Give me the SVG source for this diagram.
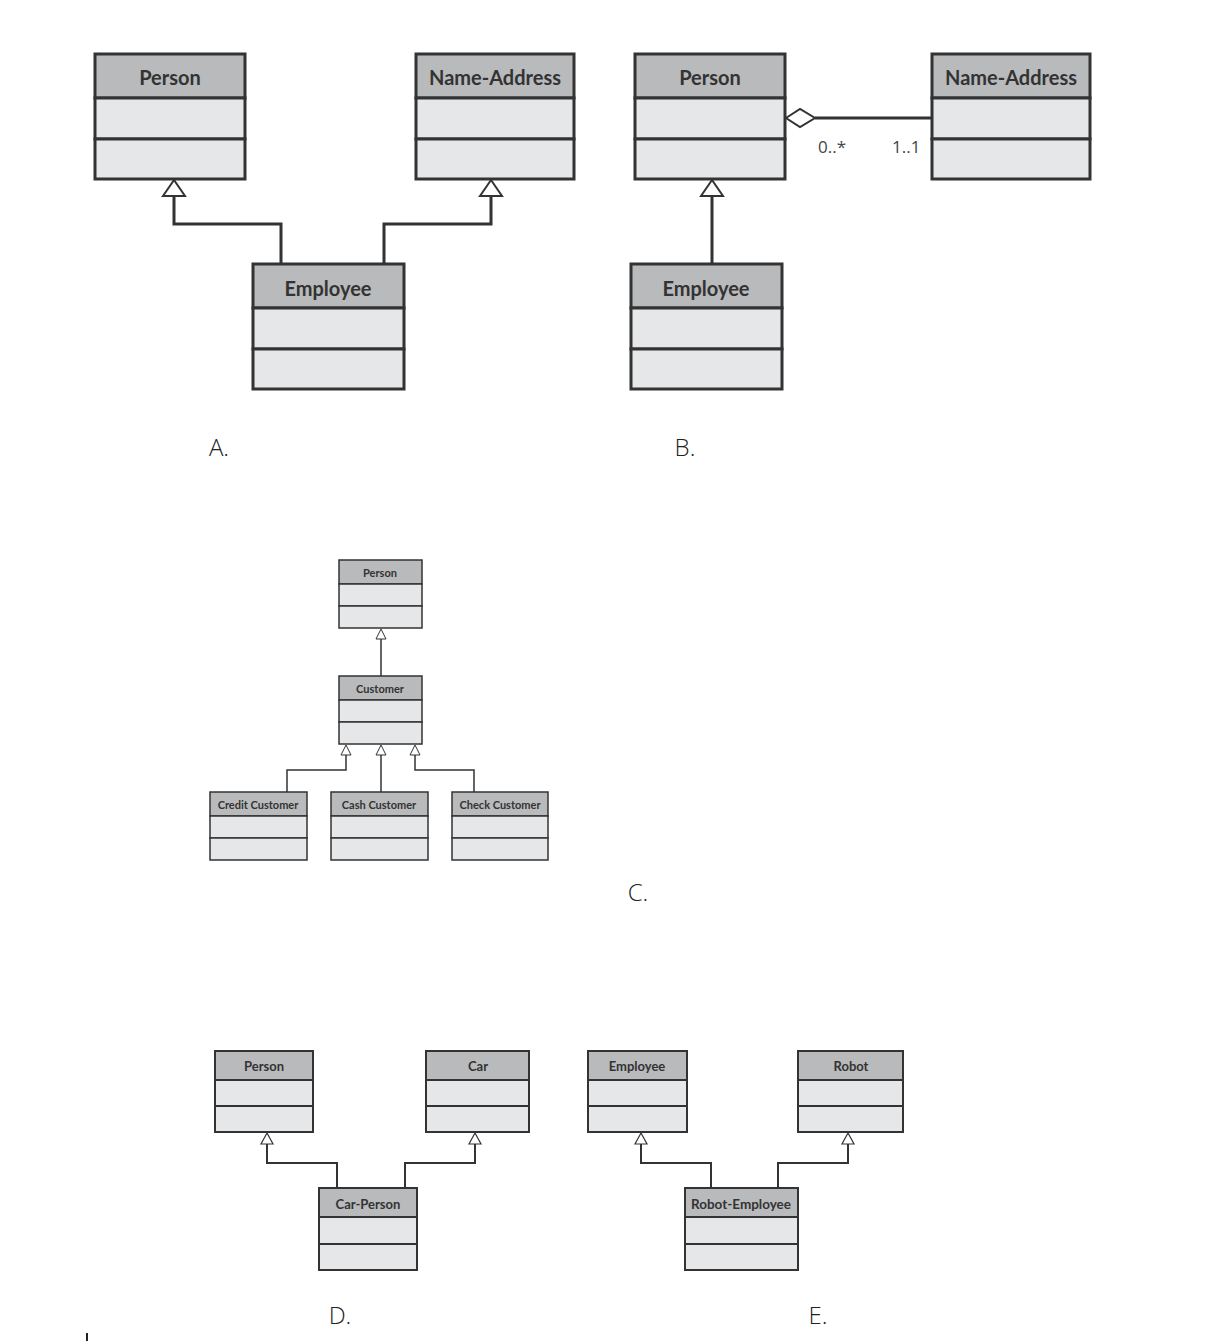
<svg xmlns="http://www.w3.org/2000/svg" width="1215" height="1341" viewBox="0 0 1215 1341">
<style>
.h{fill:#b9babc;stroke:#333;}
.b{fill:#e6e7e8;stroke:#333;}
.t{font-family:Lato,"Open Sans",sans-serif;font-weight:bold;fill:#333;text-anchor:middle;}
.c{fill:none;stroke:#333;}
.tri{fill:#fff;stroke:#333;}
.lb{font-family:"Open Sans","Noto Sans",sans-serif;font-weight:300;font-size:24px;fill:#222;text-anchor:middle;}
.m{font-family:"Open Sans",sans-serif;font-size:17px;fill:#444;}
</style>
<rect width="1215" height="1341" fill="#fff"/>
<g id="connectors">
<g stroke-width="3">
<polyline class="c" points="281,264 281,224 174,224 174,196" stroke-width="3"/>
<polyline class="c" points="384,264 384,224 491,224 491,196" stroke-width="3"/>
<polygon class="tri" points="174,180 163,196 185,196" stroke-width="2"/>
<polygon class="tri" points="491,180 480,196 502,196" stroke-width="2"/>
<line class="c" x1="712" y1="264" x2="712" y2="196" stroke-width="3"/>
<polygon class="tri" points="712,180 701,196 723,196" stroke-width="2"/>
<line class="c" x1="815" y1="118" x2="932" y2="118" stroke-width="3"/>
<polygon class="tri" points="786,118 800,109 815,118 800,127" stroke-width="2"/>
</g>
<g stroke-width="1.5">
<line class="c" x1="381" y1="676" x2="381" y2="639" stroke-width="1.5"/>
<polygon class="tri" points="381,629 376,639 386,639" stroke-width="1"/>
<polyline class="c" points="287,792 287,770 346,770 346,755" stroke-width="1.5"/>
<line class="c" x1="381" y1="792" x2="381" y2="755" stroke-width="1.5"/>
<polyline class="c" points="474,792 474,770 415,770 415,755" stroke-width="1.5"/>
<polygon class="tri" points="346,745 341,755 351,755" stroke-width="1"/>
<polygon class="tri" points="381,745 376,755 386,755" stroke-width="1"/>
<polygon class="tri" points="415,745 410,755 420,755" stroke-width="1"/>
<polyline class="c" points="337,1188 337,1163 267,1163 267,1144" stroke-width="2"/>
<polyline class="c" points="405,1188 405,1163 475,1163 475,1144" stroke-width="2"/>
<polygon class="tri" points="267,1133 261,1144 273,1144" stroke-width="1.2"/>
<polygon class="tri" points="475,1133 469,1144 481,1144" stroke-width="1.2"/>
<polyline class="c" points="711,1188 711,1163 641,1163 641,1144" stroke-width="2"/>
<polyline class="c" points="778,1188 778,1163 848,1163 848,1144" stroke-width="2"/>
<polygon class="tri" points="641,1133 635,1144 647,1144" stroke-width="1.2"/>
<polygon class="tri" points="848,1133 842,1144 854,1144" stroke-width="1.2"/>
</g>
<text class="m" x="818" y="153">0..*</text>
<text class="m" x="892" y="153">1..1</text>
</g>
<g id="a-person"><rect class="h" x="95" y="54" width="150" height="44" stroke-width="3"/><rect class="b" x="95" y="98" width="150" height="41" stroke-width="3"/><rect class="b" x="95" y="139" width="150" height="40" stroke-width="3"/><text class="t" x="170" y="85" font-size="20">Person</text></g>
<g id="a-nameaddress"><rect class="h" x="416" y="54" width="158" height="44" stroke-width="3"/><rect class="b" x="416" y="98" width="158" height="41" stroke-width="3"/><rect class="b" x="416" y="139" width="158" height="40" stroke-width="3"/><text class="t" x="495" y="85" font-size="20">Name-Address</text></g>
<g id="a-employee"><rect class="h" x="253" y="264" width="151" height="44" stroke-width="3"/><rect class="b" x="253" y="308" width="151" height="41" stroke-width="3"/><rect class="b" x="253" y="349" width="151" height="40" stroke-width="3"/><text class="t" x="328" y="296" font-size="20">Employee</text></g>
<g id="b-person"><rect class="h" x="635" y="54" width="150" height="44" stroke-width="3"/><rect class="b" x="635" y="98" width="150" height="41" stroke-width="3"/><rect class="b" x="635" y="139" width="150" height="40" stroke-width="3"/><text class="t" x="710" y="85" font-size="20">Person</text></g>
<g id="b-nameaddress"><rect class="h" x="932" y="54" width="158" height="44" stroke-width="3"/><rect class="b" x="932" y="98" width="158" height="41" stroke-width="3"/><rect class="b" x="932" y="139" width="158" height="40" stroke-width="3"/><text class="t" x="1011" y="85" font-size="20">Name-Address</text></g>
<g id="b-employee"><rect class="h" x="631" y="264" width="151" height="44" stroke-width="3"/><rect class="b" x="631" y="308" width="151" height="41" stroke-width="3"/><rect class="b" x="631" y="349" width="151" height="40" stroke-width="3"/><text class="t" x="706" y="296" font-size="20">Employee</text></g>
<g id="c-person"><rect class="h" x="339" y="560" width="83" height="24" stroke-width="1.5"/><rect class="b" x="339" y="584" width="83" height="22" stroke-width="1.5"/><rect class="b" x="339" y="606" width="83" height="22" stroke-width="1.5"/><text class="t" x="380" y="577" font-size="11">Person</text></g>
<g id="c-customer"><rect class="h" x="339" y="676" width="83" height="24" stroke-width="1.5"/><rect class="b" x="339" y="700" width="83" height="22" stroke-width="1.5"/><rect class="b" x="339" y="722" width="83" height="22" stroke-width="1.5"/><text class="t" x="380" y="693" font-size="11">Customer</text></g>
<g id="c-credit"><rect class="h" x="210" y="792" width="97" height="24" stroke-width="1.5"/><rect class="b" x="210" y="816" width="97" height="22" stroke-width="1.5"/><rect class="b" x="210" y="838" width="97" height="22" stroke-width="1.5"/><text class="t" x="258" y="809" font-size="11">Credit Customer</text></g>
<g id="c-cash"><rect class="h" x="331" y="792" width="97" height="24" stroke-width="1.5"/><rect class="b" x="331" y="816" width="97" height="22" stroke-width="1.5"/><rect class="b" x="331" y="838" width="97" height="22" stroke-width="1.5"/><text class="t" x="379" y="809" font-size="11">Cash Customer</text></g>
<g id="c-check"><rect class="h" x="452" y="792" width="96" height="24" stroke-width="1.5"/><rect class="b" x="452" y="816" width="96" height="22" stroke-width="1.5"/><rect class="b" x="452" y="838" width="96" height="22" stroke-width="1.5"/><text class="t" x="500" y="809" font-size="11">Check Customer</text></g>
<g id="d-person"><rect class="h" x="215" y="1051" width="98" height="29" stroke-width="2"/><rect class="b" x="215" y="1080" width="98" height="26" stroke-width="2"/><rect class="b" x="215" y="1106" width="98" height="26" stroke-width="2"/><text class="t" x="264" y="1071" font-size="13">Person</text></g>
<g id="d-car"><rect class="h" x="426" y="1051" width="103" height="29" stroke-width="2"/><rect class="b" x="426" y="1080" width="103" height="26" stroke-width="2"/><rect class="b" x="426" y="1106" width="103" height="26" stroke-width="2"/><text class="t" x="478" y="1071" font-size="13">Car</text></g>
<g id="d-carperson"><rect class="h" x="319" y="1188" width="98" height="29" stroke-width="2"/><rect class="b" x="319" y="1217" width="98" height="27" stroke-width="2"/><rect class="b" x="319" y="1244" width="98" height="26" stroke-width="2"/><text class="t" x="368" y="1209" font-size="13">Car-Person</text></g>
<g id="e-employee"><rect class="h" x="588" y="1051" width="99" height="29" stroke-width="2"/><rect class="b" x="588" y="1080" width="99" height="26" stroke-width="2"/><rect class="b" x="588" y="1106" width="99" height="26" stroke-width="2"/><text class="t" x="637" y="1071" font-size="13">Employee</text></g>
<g id="e-robot"><rect class="h" x="798" y="1051" width="105" height="29" stroke-width="2"/><rect class="b" x="798" y="1080" width="105" height="26" stroke-width="2"/><rect class="b" x="798" y="1106" width="105" height="26" stroke-width="2"/><text class="t" x="851" y="1071" font-size="13">Robot</text></g>
<g id="e-robotemployee"><rect class="h" x="685" y="1188" width="113" height="29" stroke-width="2"/><rect class="b" x="685" y="1217" width="113" height="27" stroke-width="2"/><rect class="b" x="685" y="1244" width="113" height="26" stroke-width="2"/><text class="t" x="741" y="1209" font-size="13" textLength="100" lengthAdjust="spacingAndGlyphs">Robot-Employee</text></g>
<text class="lb" x="219" y="456">A.</text>
<text class="lb" x="685" y="456">B.</text>
<text class="lb" x="638" y="901">C.</text>
<text class="lb" x="340" y="1324">D.</text>
<text class="lb" x="818" y="1324">E.</text>
<line x1="87" y1="1333" x2="87" y2="1341" stroke="#222" stroke-width="2"/>
</svg>
